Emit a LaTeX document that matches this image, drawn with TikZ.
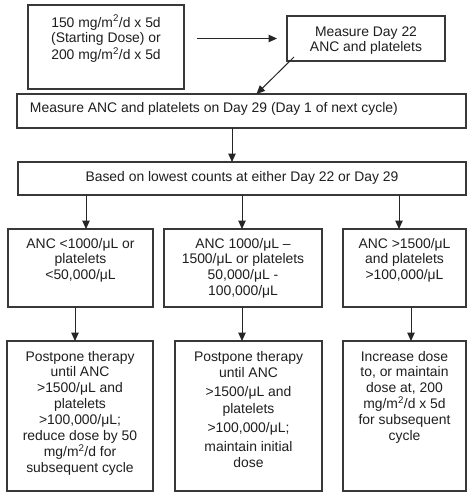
\documentclass[tikz,border=0pt]{standalone}
\usepackage{fontspec}
\setmainfont{Liberation Sans}
\usetikzlibrary{arrows.meta}
\newcommand{\bt}[4]{\parbox[c][#2][t]{#1}{\centering\rule{0pt}{#3}#4}}
\newcommand{\sq}{\textsuperscript{2}}
\begin{document}
\begin{tikzpicture}[x=1pt,y=-1pt,
  box/.style={draw=black!78, line width=1.2pt, inner sep=0pt, outer sep=0pt, text=black!88,
    font=\fontsize{13.9}{15.9}\selectfont},
  arr/.style={draw=black!85, line width=1pt, -{Triangle[length=8.5pt,width=7.5pt]}}]
\useasboundingbox[fill=white] (0,0) rectangle (474,496);
% top row
\node[box] (A) at (106,47) {\bt{156pt}{84pt}{22pt}{150 mg/m\sq/d x 5d\\(Starting Dose) or\\[1pt]200 mg/m\sq/d x 5d}};
\node[box] (B) at (366,38.5) {\bt{158pt}{45pt}{20pt}{Measure Day 22\\ANC and platelets}};
\node[box] (C) at (241.5,111) {\parbox[c][34pt][t]{449pt}{\raggedright\rule{0pt}{18pt}\hspace*{13pt}Measure ANC and platelets on Day 29 (Day 1 of next cycle)}};
\node[box] (D) at (242,178.5) {\bt{448pt}{33pt}{19.5pt}{Based on lowest counts at either Day 22 or Day 29}};
% condition row
\node[box] (E1) at (80.5,268) {\bt{145pt}{78pt}{19pt}{ANC <1000/μL or\\platelets\\<50,000/μL}};
\node[box] (E2) at (243,268) {\bt{158pt}{78pt}{19pt}{ANC 1000/μL –\\1500/μL or platelets\\50,000/μL -\\100,000/μL}};
\node[box] (E3) at (404.5,268) {\bt{123pt}{78pt}{19pt}{ANC >1500/μL\\and platelets\\>100,000/μL}};
% action row
\node[box] (F1) at (80,416) {\bt{146pt}{150pt}{20pt}{Postpone therapy\\until ANC\\>1500/μL and\\platelets\\>100,000/μL;\\reduce dose by 50\\mg/m\sq/d for\\subsequent cycle}};
\node[box] (F2) at (248.5,416) {\bt{147pt}{150pt}{20pt}{Postpone therapy\\[1pt]until ANC\\[3pt]>1500/μL and\\[1pt]platelets\\[3pt]>100,000/μL;\\[3pt]maintain initial\\dose}};
\node[box] (F3) at (404.5,416) {\bt{123pt}{150pt}{20pt}{Increase dose\\to, or maintain\\dose at, 200\\mg/m\sq/d x 5d\\for subsequent\\cycle}};
% arrow columns
\coordinate (xc) at (232,0);
\coordinate (x1) at (86,0);
\coordinate (x2) at (242,0);
\coordinate (x3) at (399,0);
\coordinate (y1) at (75,0);
\coordinate (y2) at (242,0);
\coordinate (y3) at (411,0);
% connectors
\draw[arr, shorten <=13pt, shorten >=10pt] (A.east |- B.west) -- (B.west);
\draw[arr] ([xshift=-72pt,yshift=4pt]B.south) -- ([xshift=15pt]C.north);
\draw[arr] (C.south -| xc) -- (D.north -| xc);
\draw[arr] (D.south -| x1) -- (E1.north -| x1);
\draw[arr] (D.south -| x2) -- (E2.north -| x2);
\draw[arr] (D.south -| x3) -- (E3.north -| x3);
\draw[arr] (E1.south -| y1) -- (F1.north -| y1);
\draw[arr] (E2.south -| y2) -- (F2.north -| y2);
\draw[arr] (E3.south -| y3) -- (F3.north -| y3);
\end{tikzpicture}
\end{document}
